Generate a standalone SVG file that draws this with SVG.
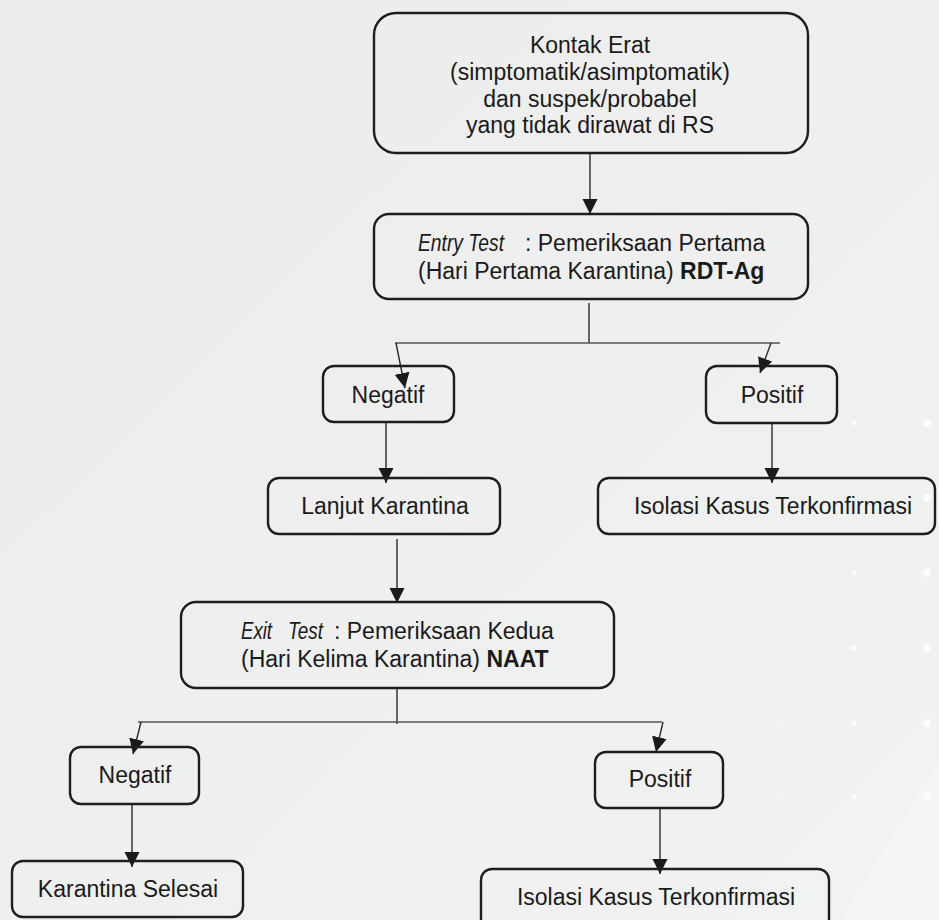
<svg xmlns="http://www.w3.org/2000/svg" width="939" height="920" viewBox="0 0 939 920">
<style>
.box{fill:none;stroke:#1e1e1e;stroke-width:2.4}
.t{font-family:"Liberation Sans",Arial,sans-serif;font-size:23px;fill:#1a1a1a}
.c{text-anchor:middle}
.i{font-style:italic}
.b{font-weight:bold}
.ln{fill:none;stroke:#2a2a2a;stroke-width:1.4}
.br{fill:none;stroke:#555;stroke-width:1.6}
.dot{fill:#ffffff}
</style>
<defs>
<linearGradient id="bg" x1="0" y1="0" x2="1" y2="1">
<stop offset="0" stop-color="#ececec"/>
<stop offset="1" stop-color="#f1f2f2"/>
</linearGradient>
<marker id="ah" markerWidth="16" markerHeight="16" refX="15" refY="8" orient="auto" markerUnits="userSpaceOnUse">
<path d="M0,0.5 L15,8 L0,15.5 Z" fill="#1a1a1a"/>
</marker>
</defs>
<rect width="939" height="920" fill="url(#bg)"/>
<g id="background-decor" opacity="0.85">
<path d="M840,920 L939,760 L939,920 Z" fill="#f5f6f6"/>
<circle class="dot" cx="781" cy="423" r="1.2"/><circle class="dot" cx="854" cy="423" r="2.5"/><circle class="dot" cx="927" cy="423" r="4"/>
<circle class="dot" cx="781" cy="498" r="1.2"/><circle class="dot" cx="854" cy="498" r="2.5"/><circle class="dot" cx="927" cy="498" r="4"/>
<circle class="dot" cx="781" cy="573" r="1.2"/><circle class="dot" cx="854" cy="573" r="2.5"/><circle class="dot" cx="927" cy="573" r="4"/>
<circle class="dot" cx="781" cy="648" r="1.2"/><circle class="dot" cx="854" cy="648" r="2.5"/><circle class="dot" cx="927" cy="648" r="4"/>
<circle class="dot" cx="781" cy="723" r="1.2"/><circle class="dot" cx="854" cy="723" r="2.5"/><circle class="dot" cx="927" cy="723" r="4"/>
<circle class="dot" cx="781" cy="797" r="1.2"/><circle class="dot" cx="854" cy="797" r="2.5"/><circle class="dot" cx="927" cy="797" r="4"/>
</g>
<g id="connectors">
<line class="ln" x1="590" y1="153" x2="590" y2="214" marker-end="url(#ah)"/>
<line class="ln" x1="589" y1="303" x2="589" y2="343"/>
<line class="br" x1="395" y1="343" x2="780" y2="343"/>
<line class="ln" x1="396" y1="343" x2="405" y2="388" marker-end="url(#ah)"/>
<line class="ln" x1="771" y1="343" x2="760" y2="373" marker-end="url(#ah)"/>
<line class="ln" x1="386" y1="422" x2="386" y2="483" marker-end="url(#ah)"/>
<line class="ln" x1="772" y1="423" x2="772" y2="483" marker-end="url(#ah)"/>
<line class="ln" x1="397" y1="539" x2="397" y2="603" marker-end="url(#ah)"/>
<line class="ln" x1="397" y1="688" x2="397" y2="724"/>
<line class="br" x1="138" y1="722" x2="662" y2="722"/>
<line class="ln" x1="141" y1="722" x2="133" y2="754" marker-end="url(#ah)"/>
<line class="ln" x1="663" y1="722" x2="656" y2="752" marker-end="url(#ah)"/>
<line class="ln" x1="132" y1="804" x2="132" y2="867" marker-end="url(#ah)"/>
<line class="ln" x1="660" y1="808" x2="660" y2="874" marker-end="url(#ah)"/>
</g>
<g id="kontak-erat">
<rect class="box" x="374" y="13" width="434" height="140" rx="22"/>
<text class="t c" x="590" y="53">Kontak Erat</text>
<text class="t c" x="590" y="80">(simptomatik/asimptomatik)</text>
<text class="t c" x="590" y="107">dan suspek/probabel</text>
<text class="t c" x="590" y="133">yang tidak dirawat di RS</text>
</g>
<g id="entry-test">
<rect class="box" x="374" y="214" width="434" height="85" rx="15"/>
<text class="t i" x="418" y="251" textLength="86" lengthAdjust="spacingAndGlyphs">Entry Test</text>
<text class="t" x="525" y="251">: Pemeriksaan Pertama</text>
<text class="t" x="418" y="279">(Hari Pertama Karantina) <tspan class="b">RDT-Ag</tspan></text>
</g>
<g id="negatif-1">
<rect class="box" x="323" y="366" width="131" height="56" rx="11"/>
<text class="t c" x="388" y="403">Negatif</text>
</g>
<g id="positif-1">
<rect class="box" x="706" y="366" width="131" height="57" rx="11"/>
<text class="t c" x="772" y="403">Positif</text>
</g>
<g id="lanjut-karantina">
<rect class="box" x="268" y="478" width="232" height="56" rx="11"/>
<text class="t c" x="385" y="514">Lanjut Karantina</text>
</g>
<g id="isolasi-1">
<rect class="box" x="598" y="478" width="337" height="56" rx="11"/>
<text class="t c" x="773" y="514">Isolasi Kasus Terkonfirmasi</text>
</g>
<g id="exit-test">
<rect class="box" x="181" y="602" width="433" height="86" rx="15"/>
<text class="t i" x="241" y="639" textLength="31" lengthAdjust="spacingAndGlyphs">Exit</text>
<text class="t i" x="288" y="639" textLength="35" lengthAdjust="spacingAndGlyphs">Test</text>
<text class="t" x="334" y="639">: Pemeriksaan Kedua</text>
<text class="t" x="241" y="667">(Hari Kelima Karantina) <tspan class="b">NAAT</tspan></text>
</g>
<g id="negatif-2">
<rect class="box" x="70" y="747" width="129" height="57" rx="11"/>
<text class="t c" x="135" y="783">Negatif</text>
</g>
<g id="positif-2">
<rect class="box" x="595" y="752" width="128" height="56" rx="11"/>
<text class="t c" x="660" y="787">Positif</text>
</g>
<g id="karantina-selesai">
<rect class="box" x="12" y="861" width="231" height="56" rx="11"/>
<text class="t c" x="128" y="897">Karantina Selesai</text>
</g>
<g id="isolasi-2">
<rect class="box" x="481" y="869" width="348" height="62" rx="11"/>
<text class="t c" x="656" y="905">Isolasi Kasus Terkonfirmasi</text>
</g>
</svg>
